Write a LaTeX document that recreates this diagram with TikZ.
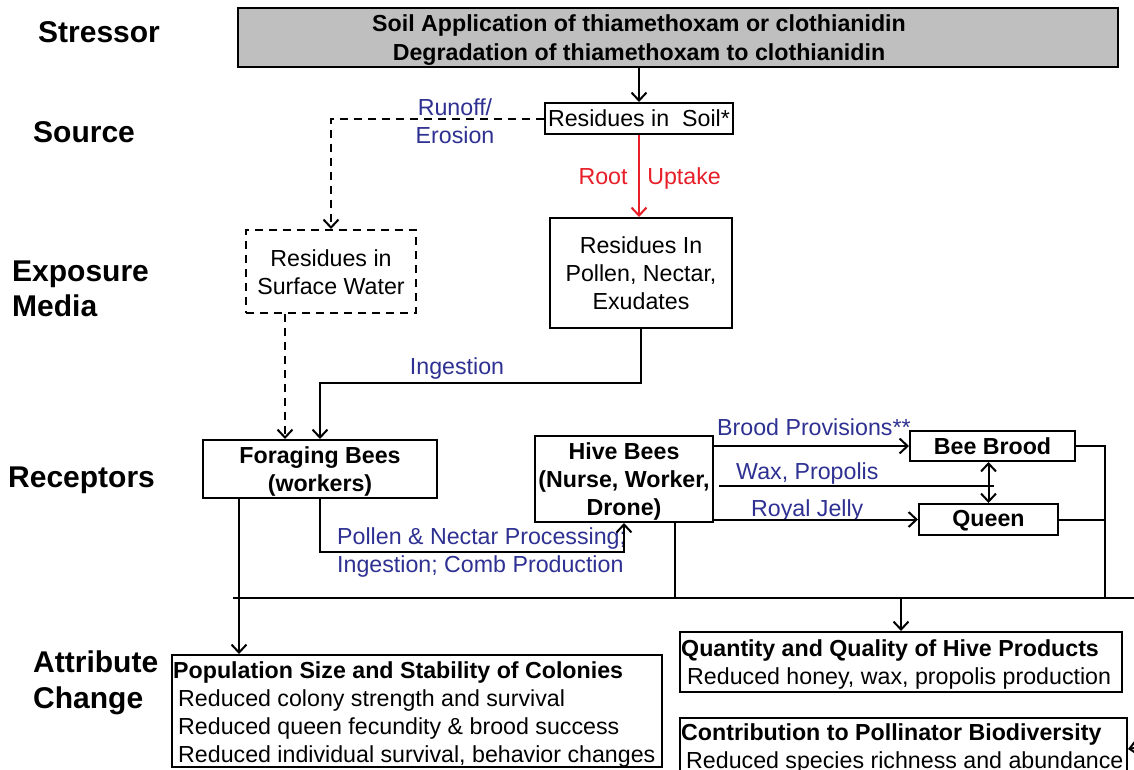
\documentclass[tikz,border=0pt]{standalone}
\usepackage{fontspec}
\setmainfont{Liberation Sans}
\usetikzlibrary{arrows.meta}
\definecolor{lblblue}{RGB}{46,49,146}
\definecolor{lblred}{RGB}{232,30,40}
\definecolor{stressgray}{RGB}{191,191,191}
\newcommand\bodyfs{\fontsize{23.2}{28}\selectfont}
\newcommand\headfs{\fontsize{30}{35}\selectfont\bfseries}
\begin{document}
\begin{tikzpicture}[x=1pt,y=-1pt,
  box/.style={draw, line width=2pt, inner sep=0pt, align=center, font=\bodyfs},
  bbox/.style={box, font=\bodyfs\bfseries},
  txt/.style={inner sep=0pt, font=\bodyfs, align=center},
  btxt/.style={txt, font=\bodyfs\bfseries},
  lbl/.style={txt, text=lblblue},
  rlbl/.style={txt, text=lblred, anchor=base},
  head/.style={inner sep=0pt, font=\headfs, align=left, anchor=west},
  conn/.style={line width=2pt},
  arr/.style={conn, -{Straight Barb[length=8pt,width=15pt,line width=2pt]}},
  darr/.style={conn, {Straight Barb[length=8pt,width=15pt,line width=2pt]}-{Straight Barb[length=8pt,width=15pt,line width=2pt]}},
  dashline/.style={conn, dash pattern=on 8pt off 6pt}
]
\useasboundingbox (0,0) rectangle (1134,769);
\clip (0,0) rectangle (1134,769);
\fill[white] (0,0) rectangle (1134,769);

% row headings
\node[head] (hStress) at (38,32) {Stressor};
\node[head] (hSource) at (33,132) {Source};
\node[head] (hExpo) at (12,289) {Exposure\\Media};
\node[head] (hRec) at (8,480) {Receptors};
\node[head, align=left] (hAttr) at (33,683) {Attribute\\[0.5pt]Change};

% boxes
\node[box, fill=stressgray, minimum width=880, minimum height=59] (stress) at (678,37.5) {};
\node[btxt] (stresstxt) at (639,40.5) {Soil Application of thiamethoxam or clothianidin\\[1pt]Degradation of thiamethoxam to clothianidin};
\node[box, minimum width=188, minimum height=31] (soil) at (639,118.5) {Residues in~~Soil*};
\node[box, minimum width=182, minimum height=110] (pollen) at (641,273) {Residues In\\Pollen, Nectar,\\Exudates};
\node[box, dashline, minimum width=170, minimum height=83, label={[txt, yshift=-1pt]center:Residues in\\Surface Water}] (surface) at (331,271.5) {};
\node[bbox, minimum width=234, minimum height=58, label={[btxt, yshift=-2.5pt]center:Foraging Bees\\(workers)}] (forage) at (320,469) {};
\node[bbox, minimum width=178, minimum height=86, label={[btxt, yshift=-2pt]center:Hive Bees\\(Nurse, Worker,\\Drone)}] (hive) at (624,479) {};
\node[bbox, minimum width=165, minimum height=30] (brood) at (992.5,446) {Bee Brood};
\node[bbox, minimum width=139, minimum height=31, label={[btxt, yshift=-1.5pt]center:Queen}] (queen) at (988.5,519.5) {};
\node[box, minimum width=490, minimum height=112] (pop) at (417,711) {};
\node[box, minimum width=442, minimum height=60] (prod) at (901,662) {};
\node[box, minimum width=447, minimum height=62] (bio) at (903.5,749) {};

% attribute texts
\node[btxt, anchor=west] (popT) at (173,672) {Population Size and Stability of Colonies};
\node[txt, anchor=west] (pop1) at (178,700) {Reduced colony strength and survival};
\node[txt, anchor=west] (pop2) at (178,728) {Reduced queen fecundity \& brood success};
\node[txt, anchor=west] (pop3) at (178,756) {Reduced individual survival, behavior changes};
\node[btxt, anchor=west] (prodT) at (681,650.5) {Quantity and Quality of Hive Products};
\node[txt, anchor=west] (prod1) at (687,678.5) {Reduced honey, wax, propolis production};
\node[btxt, anchor=west] (bioT) at (681,734.5) {Contribution to Pollinator Biodiversity};
\node[txt, anchor=west] (bio1) at (686,762.5) {Reduced species richness and abundance};

% connector labels
\node[lbl] (lRun) at (455,121.5) {Runoff/\\Erosion};
\node[rlbl] (lRoot) at (603,184) {Root};
\node[rlbl] (lUp) at (684,184) {Uptake};
\node[lbl] (lIng) at (457,368) {Ingestion};
\node[lbl, anchor=west, align=left] (lProc) at (337,552.5) {Pollen \& Nectar Processing;\\Ingestion; Comb Production};
\node[lbl, anchor=west] (lBrood) at (717,427.5) {Brood Provisions**};
\node[lbl, anchor=west] (lWax) at (736,473) {Wax, Propolis};
\node[lbl, anchor=west] (lRoyal) at (751,510) {Royal Jelly};

% junction coordinates
\coordinate (busL) at (233,598);
\coordinate (busR) at (1134,598);
\coordinate (rc) at (1105,598);
\coordinate (bioin) at (1134,748);

% connectors
\draw[arr] (stress.south -| soil.north) -- (soil.north);
\draw[arr, lblred] (soil.south) -- (soil.south |- pollen.north);
\draw[dashline, -{Straight Barb[length=8pt,width=15pt,line width=2pt]}] (soil.west) -| (surface.north);
\draw[dashline, -{Straight Barb[length=8pt,width=15pt,line width=2pt]}] ([xshift=-46pt]surface.south) -- ([xshift=-35pt]forage.north);
\draw[arr] (pollen.south) -- (pollen.south |- 0,383) -| (forage.north);
\draw[arr] (forage.south) -- (forage.south |- 0,552) -| (hive.south);
\draw[arr] (hive.east |- brood.west) -- (brood.west);
\draw[arr] (hive.east |- queen.west) -- (queen.west);
\draw[conn] ([xshift=5pt,yshift=-7pt]hive.east) -- ([xshift=5pt,yshift=-7pt]hive.east -| queen.north);
\draw[darr] (brood.south -| queen.north) -- (queen.north);
\draw[conn] (brood.east) -| (rc);
\draw[conn] (queen.east) -- (queen.east -| rc);
\draw[conn] ([xshift=51pt]hive.south) -- ([xshift=51pt]hive.south |- rc);
\draw[conn] (busL) -- (busR);
\draw[arr] ([xshift=-81pt]forage.south) -- ([xshift=-81pt]forage.south |- pop.north);
\draw[arr] (prod.north |- rc) -- (prod.north);
\draw[arr] (bioin) -- (bio.east);
\end{tikzpicture}
\end{document}
